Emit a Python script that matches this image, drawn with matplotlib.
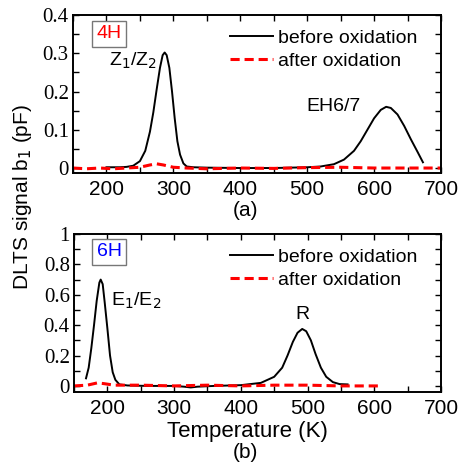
import matplotlib.pyplot as plt
from matplotlib.ticker import MultipleLocator

# 4H-SiC spectra
t_4h_before = [200, 210, 220, 230, 240, 250, 258, 265, 270, 275, 280, 284, 287, 290, 294, 298,
               302, 306, 310, 315, 320, 330, 350, 400, 450, 500, 520, 540, 555, 570, 580, 590,
               600, 610, 618, 625, 635, 645, 655, 665, 673]
s_4h_before = [0.002, 0.002, 0.002, 0.003, 0.006, 0.018, 0.045, 0.095, 0.145, 0.205, 0.262, 0.295,
               0.302, 0.295, 0.262, 0.200, 0.130, 0.070, 0.035, 0.012, 0.004, 0.002, 0.001, 0.0,
               0.0, 0.002, 0.004, 0.010, 0.022, 0.045, 0.070, 0.100, 0.130, 0.152, 0.160, 0.157,
               0.140, 0.110, 0.075, 0.042, 0.015]
t_4h_after = [150, 170, 190, 210, 230, 250, 265, 275, 285, 300, 320, 350, 400, 450, 500, 550,
              600, 650, 700]
s_4h_after = [0.0, -0.002, 0.0, -0.002, 0.0, 0.002, 0.008, 0.011, 0.008, 0.002, 0.0, -0.002,
              0.0, -0.001, 0.001, 0.002, 0.0, 0.0, 0.0]

# 6H-SiC spectra
t_6h_before = [168, 172, 176, 180, 184, 188, 190, 193, 196, 200, 204, 208, 212, 218, 230, 260,
               300, 315, 325, 335, 360, 400, 430, 450, 462, 470, 478, 485, 492, 498, 505, 512,
               520, 528, 538, 548, 560]
s_6h_before = [0.05, 0.12, 0.25, 0.40, 0.56, 0.68, 0.70, 0.67, 0.55, 0.38, 0.20, 0.09, 0.04,
               0.01, 0.003, 0.0, 0.0, -0.005, -0.01, -0.005, 0.0, 0.005, 0.02, 0.06, 0.12, 0.20,
               0.29, 0.35, 0.375, 0.36, 0.30, 0.21, 0.12, 0.06, 0.025, 0.012, 0.01]
t_6h_after = [150, 170, 185, 195, 210, 250, 300, 350, 400, 450, 500, 550, 606]
s_6h_after = [0.0, 0.005, 0.02, 0.015, 0.005, 0.005, 0.0, 0.005, 0.0, 0.005, 0.005, 0.0, 0.0]

y_ticks_4h = [0, 0.1, 0.2, 0.3, 0.4]
y_labels_4h = ['0', '0.1', '0.2', '0.3', '0.4']
y_ticks_6h = [0, 0.2, 0.4, 0.6, 0.8, 1.0]
y_labels_6h = ['0', '0.2', '0.4', '0.6', '0.8', '1']

W, H = 461, 468
fig = plt.figure(figsize=(W / 100, H / 100), dpi=100)
plt.rcParams['font.family'] = 'Liberation Sans'


def style_axes(ax, ymin, ymax, yticks, ylabels, yminor):
    ax.set_xlim(150, 700)
    ax.set_ylim(ymin, ymax)
    ax.xaxis.set_major_locator(MultipleLocator(100))
    ax.xaxis.set_minor_locator(MultipleLocator(50))
    ax.set_yticks(yticks, ylabels)
    ax.yaxis.set_minor_locator(MultipleLocator(yminor))
    ax.tick_params(which='both', direction='in', top=True, right=True, length=4.5, width=1)
    ax.tick_params(axis='x', labelsize=15, pad=5)
    ax.tick_params(axis='y', labelsize=15, pad=3)
    for sp in ax.spines.values():
        sp.set_linewidth(1.4)


ax1 = fig.add_axes([73 / W, 1 - 173 / H, 368 / W, 158 / H])
ax1.plot(t_4h_before, s_4h_before, color='black', lw=1.4, label='before oxidation')
ax1.plot(t_4h_after, s_4h_after, color='red', lw=2.2, ls=(0, (3, 1.6)), label='after oxidation')
style_axes(ax1, -0.013, 0.4, y_ticks_4h, y_labels_4h, 0.05)

ax2 = fig.add_axes([74 / W, 1 - 392 / H, 367 / W, 158 / H])
ax2.plot(t_6h_before, s_6h_before, color='black', lw=1.4, label='before oxidation')
ax2.plot(t_6h_after, s_6h_after, color='red', lw=2.2, ls=(0, (3, 1.6)), label='after oxidation')
style_axes(ax2, -0.04, 1.0, y_ticks_6h, y_labels_6h, 0.1)

for ax, top in ((ax1, 29), (ax2, 248)):
    ax.legend(loc='upper left', bbox_to_anchor=(230 / W, 1 - top / H),
              bbox_transform=fig.transFigure, frameon=False, fontsize=14,
              handlelength=2.2, handletextpad=0.25, labelspacing=0.3,
              borderpad=0, borderaxespad=0)

box = dict(boxstyle='square,pad=0.25', fc='white', ec='#777777', lw=1)
fig.text(109 / W, 1 - 34 / H, '4H', color='red', fontsize=14, ha='center', va='center', bbox=box)
fig.text(109 / W, 1 - 252 / H, '6H', color='blue', fontsize=14, ha='center', va='center', bbox=box)

ax1.text(275, 0.28, r'Z$_1$/Z$_2$', fontsize=14, ha='right', va='center')
ax1.text(540, 0.16, 'EH6/7', fontsize=14, ha='center', va='center')
ax2.text(206, 0.56, r'E$_1$/E$_2$', fontsize=14, ha='left', va='center')
ax2.text(492, 0.47, 'R', fontsize=14, ha='center', va='center')

fig.text(245 / W, 1 - 210 / H, '(a)', fontsize=15, ha='center', va='center')
fig.text(245 / W, 1 - 453 / H, '(b)', fontsize=15, ha='center', va='center')
fig.text(247 / W, 1 - 432 / H, 'Temperature (K)', fontsize=16, ha='center', va='center')
fig.text(22 / W, 1 - 197 / H, r'DLTS signal b$_1$ (pF)', fontsize=15, ha='center', va='center',
         rotation=90)

# y tick numbers are set in a serif face
fig.canvas.draw()
for ax in (ax1, ax2):
    for lab in ax.get_yticklabels():
        lab.set_fontfamily('Liberation Serif')
        lab.set_fontsize(15)

fig.savefig('out.png', dpi=100)
